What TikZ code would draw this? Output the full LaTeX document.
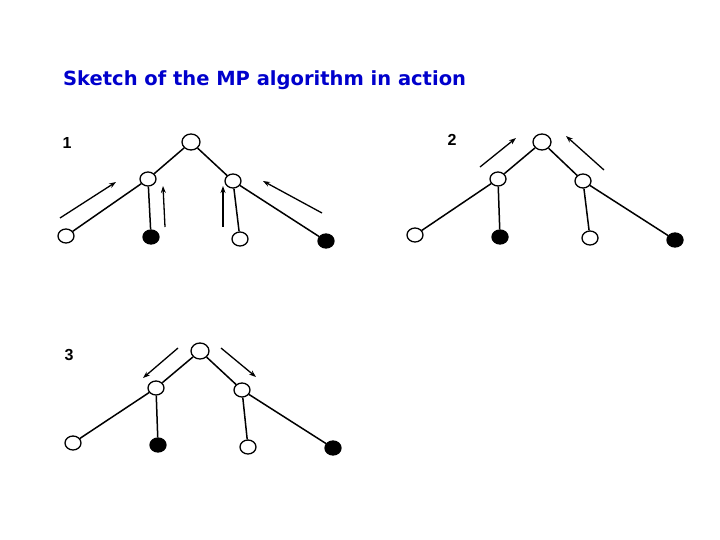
\documentclass[tikz,border=0pt]{standalone}
\usepackage{fontspec}
\setmainfont{DejaVu Sans}
\newfontfamily\labfont{Liberation Sans}
\usetikzlibrary{shapes.geometric,arrows.meta}
\definecolor{titleblue}{RGB}{0,0,204}
\tikzset{
  x=1pt,y=-1pt,
  rootnode/.style={draw,ellipse,line width=1.3pt,fill=white,minimum width=18pt,minimum height=16pt,inner sep=0pt},
  opennode/.style={draw,ellipse,line width=1.3pt,fill=white,minimum width=16pt,minimum height=14pt,inner sep=0pt},
  fillnode/.style={draw,ellipse,line width=1.3pt,fill=black,minimum width=16pt,minimum height=14pt,inner sep=0pt},
  edge/.style={line width=1.5pt},
  msg/.style={line width=1.3pt,-{Stealth[length=7pt,width=5pt]}},
  numlabel/.style={font=\labfont\bfseries\fontsize{16}{18}\selectfont,inner sep=0pt}
}
\begin{document}
\begin{tikzpicture}
\useasboundingbox (0,0) rectangle (720,540);
\node[anchor=base west,inner sep=0pt,text=titleblue,font=\bfseries\fontsize{19.5}{22}\selectfont] (title) at (63,86) {Sketch of the MP algorithm in action};

% ---- tree 1
\node[numlabel] (n1) at (67,143) {1};
\node[rootnode] (r1) at (191,142) {};
\node[opennode] (l1) at (148,179) {};
\node[opennode] (m1) at (233,181) {};
\node[opennode] (a1) at (66,236) {};
\node[fillnode] (b1) at (151,237) {};
\node[opennode] (c1) at (240,239) {};
\node[fillnode] (d1) at (326,241) {};
\draw[edge] (r1) -- (l1); \draw[edge] (r1) -- (m1);
\draw[edge] (l1) -- (a1); \draw[edge] (l1) -- (b1);
\draw[edge] (m1) -- (c1); \draw[edge] (m1) -- (d1);
\coordinate (p1s) at (60,218); \coordinate (p1e) at (116,182);
\coordinate (p2s) at (165,227); \coordinate (p2e) at (163,186);
\coordinate (p3s) at (223,227); \coordinate (p3e) at (223,186);
\coordinate (p4s) at (322,213); \coordinate (p4e) at (263,181);
\draw[msg] (p1s) -- (p1e);
\draw[msg] (p2s) -- (p2e);
\draw[msg] (p3s) -- (p3e);
\draw[msg] (p4s) -- (p4e);

% ---- tree 2
\node[numlabel] (n2) at (452,140) {2};
\node[rootnode] (r2) at (542,142) {};
\node[opennode] (l2) at (498,179) {};
\node[opennode] (m2) at (583,181) {};
\node[opennode] (a2) at (415,235) {};
\node[fillnode] (b2) at (500,237) {};
\node[opennode] (c2) at (590,238) {};
\node[fillnode] (d2) at (675,240) {};
\draw[edge] (r2) -- (l2); \draw[edge] (r2) -- (m2);
\draw[edge] (l2) -- (a2); \draw[edge] (l2) -- (b2);
\draw[edge] (m2) -- (c2); \draw[edge] (m2) -- (d2);
\coordinate (q1s) at (480,167); \coordinate (q1e) at (516,138);
\coordinate (q2s) at (604,170); \coordinate (q2e) at (566,136);
\draw[msg] (q1s) -- (q1e);
\draw[msg] (q2s) -- (q2e);

% ---- tree 3
\node[numlabel] (n3) at (69,355) {3};
\node[rootnode] (r3) at (200,351) {};
\node[opennode] (l3) at (156,388) {};
\node[opennode] (m3) at (242,390) {};
\node[opennode] (a3) at (73,443) {};
\node[fillnode] (b3) at (158,445) {};
\node[opennode] (c3) at (248,447) {};
\node[fillnode] (d3) at (333,448) {};
\draw[edge] (r3) -- (l3); \draw[edge] (r3) -- (m3);
\draw[edge] (l3) -- (a3); \draw[edge] (l3) -- (b3);
\draw[edge] (m3) -- (c3); \draw[edge] (m3) -- (d3);
\coordinate (s1s) at (178,348); \coordinate (s1e) at (143,378);
\coordinate (s2s) at (221,348); \coordinate (s2e) at (256,377);
\draw[msg] (s1s) -- (s1e);
\draw[msg] (s2s) -- (s2e);
\end{tikzpicture}
\end{document}
